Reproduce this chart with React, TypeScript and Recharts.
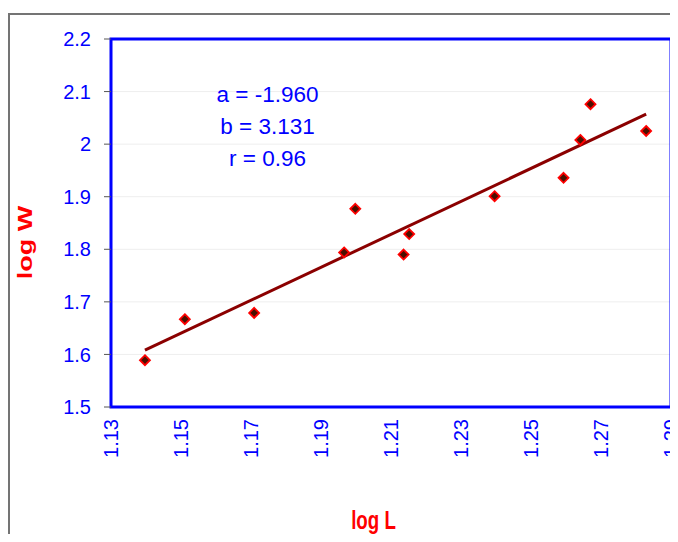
import React from 'react';
import { ScatterChart, Scatter, XAxis, YAxis, CartesianGrid, ReferenceArea } from 'recharts';

const logL = [1.1397, 1.1511, 1.1709, 1.1966, 1.1998, 1.2136, 1.2152, 1.2396, 1.2593, 1.2641, 1.267, 1.2829];
const logW = [1.589, 1.667, 1.679, 1.794, 1.877, 1.790, 1.829, 1.901, 1.936, 2.008, 2.076, 2.025];
const trendL = [1.1397, 1.2829];
const trendW = [1.608, 2.057];
const xTicks = [1.13, 1.15, 1.17, 1.19, 1.21, 1.23, 1.25, 1.27, 1.29];
const yTicks = [1.5, 1.6, 1.7, 1.8, 1.9, 2.0, 2.1, 2.2];
const annotations = ['a = -1.960', 'b = 3.131', 'r = 0.96'];

const points = logL.map((x, i) => ({ x, y: logW[i] }));
const trend = trendL.map((x, i) => ({ x, y: trendW[i] }));

const FONT = '"Liberation Sans", Arial, sans-serif';
const BLUE = '#0000ff';

const Diamond = (props: any) => {
  const { cx, cy } = props;
  if (cx == null || cy == null) return null;
  const r = 5;
  return (
    <polygon
      points={`${cx},${cy - r} ${cx + r},${cy} ${cx},${cy + r} ${cx - r},${cy}`}
      fill="#4a1000"
      stroke="#ff0000"
      strokeWidth={1.8}
    />
  );
};

const XTick = (props: any) => {
  const { x, y, payload } = props;
  return (
    <g transform={`translate(${x},${y})`}>
      <text
        transform="rotate(-90)"
        textAnchor="end"
        dy="0.36em"
        fill={BLUE}
        fontSize={20}
        fontFamily={FONT}
      >
        {Number(payload.value).toFixed(2)}
      </text>
    </g>
  );
};

export default function App() {
  return (
    <div style={{ position: 'relative', width: 670, height: 526 }}>
      <div
        style={{
          position: 'absolute',
          left: 0,
          top: 5,
          width: 670,
          height: 521,
          borderLeft: '2px solid #747474',
          borderTop: '2px solid #747474',
          boxSizing: 'border-box',
        }}
      />
      <div style={{ position: 'absolute', left: 0, top: 0 }}>
        <ScatterChart
          width={670}
          height={526}
          margin={{ top: 31, left: 43, right: 7, bottom: 67 }}
          style={{ fontFamily: FONT, overflow: 'visible' }}
        >
          <CartesianGrid horizontal={true} vertical={false} stroke="#eeeeee" />
          <XAxis
            type="number"
            dataKey="x"
            domain={[1.13, 1.29]}
            ticks={xTicks}
            interval={0}
            height={60}
            tickLine={false}
            axisLine={false}
            tickSize={6}
            tickMargin={6}
            tick={<XTick />}
            allowDataOverflow
          />
          <YAxis
            type="number"
            dataKey="y"
            domain={[1.5, 2.2]}
            ticks={yTicks}
            interval={0}
            width={60}
            tickSize={7}
            tickMargin={13}
            tickLine={{ stroke: '#555555' }}
            axisLine={false}
            tick={{ fill: BLUE, fontSize: 20, fontFamily: FONT }}
            tickFormatter={(v: number) => String(Number(v.toFixed(1)))}
            allowDataOverflow
          />
          <ReferenceArea
            x1={1.13}
            x2={1.29}
            y1={1.5}
            y2={2.2}
            fill="none"
            fillOpacity={0}
            stroke={BLUE}
            strokeWidth={3}
            ifOverflow="visible"
          />
          <Scatter
            data={trend}
            line={{ stroke: '#8b0000', strokeWidth: 3 }}
            shape={() => null}
            isAnimationActive={false}
          />
          <Scatter data={points} shape={<Diamond />} isAnimationActive={false} />
          {annotations.map((t, i) => (
            <text
              key={t}
              x={259.5}
              y={94 + i * 32}
              textAnchor="middle"
              fill={BLUE}
              fontSize={22.5}
              fontFamily={FONT}
            >
              {t}
            </text>
          ))}
          <text
            transform="translate(365.5,521) scale(0.72,1)"
            textAnchor="middle"
            fill="#ff0000"
            fontSize={26}
            fontWeight="bold"
            fontFamily={FONT}
          >
            log L
          </text>
          <text
            transform="translate(23.5,234.5) scale(0.74,1) rotate(-90)"
            textAnchor="middle"
            fill="#ff0000"
            fontSize={27}
            fontWeight="bold"
            fontFamily={FONT}
          >
            log W
          </text>
        </ScatterChart>
      </div>
    </div>
  );
}
